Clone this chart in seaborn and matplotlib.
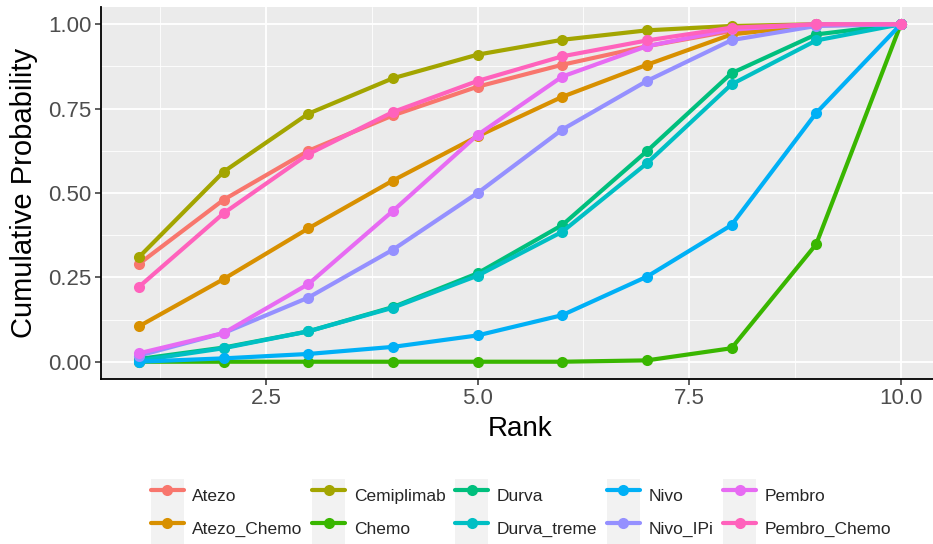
import matplotlib
matplotlib.use("Agg")
import matplotlib.pyplot as plt
from matplotlib.legend_handler import HandlerLine2D
from matplotlib.lines import Line2D
from matplotlib.patches import Rectangle
from matplotlib.ticker import MultipleLocator, FormatStrFormatter
import pandas as pd
import seaborn as sns

# Cumulative ranking probabilities (SUCRA curves) per treatment
ranks = [1, 2, 3, 4, 5, 6, 7, 8, 9, 10]

atezo = [0.29, 0.48, 0.625, 0.73, 0.815, 0.88, 0.935, 0.98, 1.0, 1.0]
atezo_chemo = [0.105, 0.245, 0.395, 0.537, 0.668, 0.785, 0.88, 0.97, 0.997, 1.0]
cemiplimab = [0.31, 0.563, 0.735, 0.84, 0.91, 0.954, 0.982, 0.995, 1.0, 1.0]
chemo = [0.0, 0.0, 0.0, 0.0, 0.0, 0.0, 0.004, 0.04, 0.348, 1.0]
durva = [0.008, 0.042, 0.09, 0.162, 0.262, 0.405, 0.624, 0.855, 0.97, 1.0]
durva_treme = [0.003, 0.04, 0.09, 0.16, 0.255, 0.385, 0.588, 0.822, 0.952, 1.0]
nivo = [0.0, 0.01, 0.023, 0.044, 0.078, 0.138, 0.252, 0.405, 0.737, 1.0]
nivo_ipi = [0.018, 0.085, 0.19, 0.332, 0.5, 0.688, 0.832, 0.953, 0.995, 1.0]
pembro = [0.025, 0.085, 0.23, 0.447, 0.672, 0.845, 0.935, 0.985, 1.0, 1.0]
pembro_chemo = [0.222, 0.44, 0.615, 0.74, 0.832, 0.905, 0.952, 0.99, 1.0, 1.0]

treatments = ["Atezo", "Atezo_Chemo", "Cemiplimab", "Chemo", "Durva",
              "Durva_treme", "Nivo", "Nivo_IPi", "Pembro", "Pembro_Chemo"]
series = [atezo, atezo_chemo, cemiplimab, chemo, durva,
          durva_treme, nivo, nivo_ipi, pembro, pembro_chemo]
colors = ["#F8766D", "#D89000", "#A3A500", "#39B600", "#00BF7D",
          "#00BFC4", "#00B0F6", "#9590FF", "#E76BF3", "#FF62BC"]

df = pd.concat(
    [pd.DataFrame({"Rank": ranks, "prob": vals, "Treatment": name})
     for name, vals in zip(treatments, series)],
    ignore_index=True,
)

sns.set_theme(style="darkgrid", rc={
    "axes.facecolor": "#EBEBEB",
    "grid.color": "white",
})
plt.rcParams["font.family"] = ["Liberation Sans", "DejaVu Sans"]

W, H = 933, 544
LW, MS = 3.0, 8.0
fig = plt.figure(figsize=(W / 100, H / 100), dpi=100)
ax = fig.add_axes([100.9 / W, (H - 378.6) / H, 838 / W, 371.2 / H])

sns.lineplot(
    data=df, x="Rank", y="prob", hue="Treatment", hue_order=treatments,
    palette=colors, marker="o", markersize=MS, markeredgewidth=0,
    linewidth=LW, errorbar=None, ax=ax,
)

ax.set_xlim(0.55, 10.45)
ax.set_ylim(-0.05, 1.05)
ax.xaxis.set_major_locator(MultipleLocator(2.5))
ax.xaxis.set_minor_locator(MultipleLocator(1.25))
ax.yaxis.set_major_locator(MultipleLocator(0.25))
ax.yaxis.set_minor_locator(MultipleLocator(0.125))
ax.xaxis.set_major_formatter(FormatStrFormatter("%.1f"))
ax.yaxis.set_major_formatter(FormatStrFormatter("%.2f"))
ax.set_axisbelow(True)
ax.grid(which="major", color="white", linewidth=1.3)
ax.grid(which="minor", color="white", linewidth=0.6)

for side in ("top", "right"):
    ax.spines[side].set_visible(False)
for side in ("left", "bottom"):
    ax.spines[side].set_visible(True)
    ax.spines[side].set_color("black")
    ax.spines[side].set_linewidth(1.3)

ax.tick_params(which="major", length=4, width=1.1, color="#333333",
               labelsize=16, labelcolor="#4D4D4D", pad=3,
               bottom=True, left=True)
ax.tick_params(which="minor", length=0)

ax.set_xlabel("Rank", fontsize=20, labelpad=5, color="black")
ax.set_ylabel("Cumulative Probability", fontsize=21, labelpad=7, color="black")


class KeyHandler(HandlerLine2D):
    """Legend key with a light grey square behind the line and dot."""

    def create_artists(self, legend, orig_handle, xdescent, ydescent,
                       width, height, fontsize, trans):
        bg = Rectangle((-xdescent, -ydescent), width, height,
                       facecolor="#F2F2F2", edgecolor="none", transform=trans)
        arts = super().create_artists(legend, orig_handle, xdescent, ydescent,
                                      width, height, fontsize, trans)
        return [bg] + list(arts)


leg = ax.get_legend()
handles = list(leg.legend_handles)
labels = [t.get_text() for t in leg.get_texts()]
leg.remove()
for h, c in zip(handles, colors):
    h.set_color(c)
    h.set_linewidth(LW)
    h.set_marker("o")
    h.set_markersize(MS)
    h.set_markeredgewidth(0)

fig.legend(
    handles, labels, loc="upper center", bbox_to_anchor=(521 / W, (H - 470) / H),
    ncol=5, frameon=False, fontsize=12.5, handlelength=1.9, handleheight=2.6,
    handletextpad=0.5, columnspacing=0.55, labelspacing=0, borderpad=0,
    handler_map={Line2D: KeyHandler(numpoints=1)},
)

fig.savefig("out.png", dpi=100, facecolor="white")
